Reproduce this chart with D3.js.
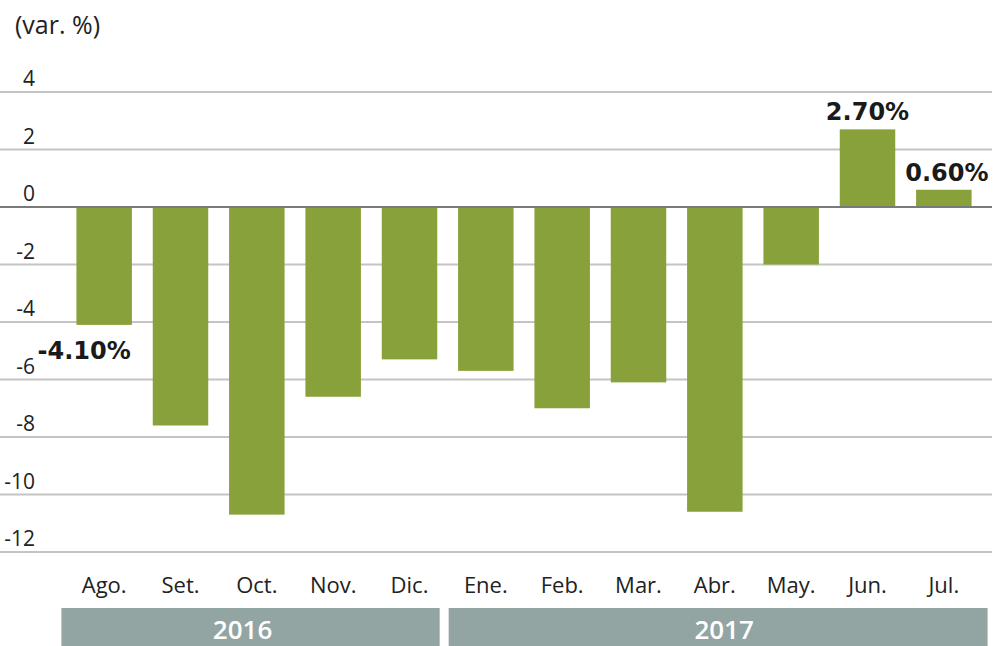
<!DOCTYPE html>
<html>
<head>
<meta charset="utf-8">
<script src="https://cdn.jsdelivr.net/npm/d3@7"></script>
<style>
  html, body { margin: 0; padding: 0; background: #fff; }
  svg { display: block; }
</style>
</head>
<body>
<div id="chart"></div>
<script>
const months = ["Ago.", "Set.", "Oct.", "Nov.", "Dic.", "Ene.", "Feb.", "Mar.", "Abr.", "May.", "Jun.", "Jul."]
const values = [-4.1, -7.6, -10.7, -6.6, -5.3, -5.7, -7.0, -6.1, -10.6, -2.0, 2.7, 0.6]
const yTicks = [4, 2, 0, -2, -4, -6, -8, -10, -12]
const years = [
  {label: "2016", first: "Ago.", last: "Dic."},
  {label: "2017", first: "Ene.", last: "Jul."}
]
// bars that carry a value label
const labelled = {"Ago.": "-4.10%", "Jun.": "2.70%", "Jul.": "0.60%"}

const width = 995, height = 646
const green = "#88a13a"
const ink = "#222"

const svg = d3.select("#chart").append("svg")
  .attr("width", width)
  .attr("height", height)

const y = d3.scaleLinear().domain([4, -12]).range([92, 552])
const x = d3.scaleBand().domain(months).range([66, 982])
  .paddingInner(0.273).paddingOuter(0.1365)

// unit subtitle
svg.append("text")
  .attr("x", 15).attr("y", 34)
  .attr("font-family", "Open Sans, sans-serif")
  .attr("font-size", 25)
  .attr("fill", ink)
  .text("(var. %)")

// grid
const grid = svg.append("g")
grid.selectAll("line")
  .data(yTicks)
  .join("line")
    .attr("x1", 0).attr("x2", 992)
    .attr("y1", d => y(d)).attr("y2", d => y(d))
    .attr("stroke", d => d === 0 ? "#7a7a7a" : "#c4c4c4")
    .attr("stroke-width", 2)

grid.selectAll("text")
  .data(yTicks)
  .join("text")
    .attr("x", 35)
    .attr("y", d => y(d) - 6)
    .attr("text-anchor", "end")
    .attr("font-family", "Open Sans, sans-serif")
    .attr("font-size", 21)
    .attr("fill", ink)
    .text(d => d)

// bars
svg.append("g")
  .selectAll("rect")
  .data(months)
  .join("rect")
    .attr("x", d => x(d))
    .attr("width", x.bandwidth())
    .attr("y", (d, i) => y(Math.max(0, values[i])))
    .attr("height", (d, i) => Math.abs(y(values[i]) - y(0)))
    .attr("fill", green)

// redraw zero line on top of bars
svg.append("line")
  .attr("x1", 0).attr("x2", 992)
  .attr("y1", y(0)).attr("y2", y(0))
  .attr("stroke", "#7a7a7a")
  .attr("stroke-width", 2)

// value labels
svg.append("g")
  .selectAll("text")
  .data(months.filter(m => labelled[m]))
  .join("text")
    .attr("x", d => x(d) + x.bandwidth() / 2 + (d === "Ago." ? -20 : d === "Jul." ? 3 : 0))
    .attr("y", d => {
      const v = values[months.indexOf(d)]
      return v < 0 ? y(v) + 34 : y(v) - 9
    })
    .attr("text-anchor", "middle")
    .attr("font-family", "DejaVu Sans, sans-serif")
    .attr("font-weight", "bold")
    .attr("font-size", 24)
    .attr("fill", "#1a1a1a")
    .text(d => labelled[d])

// month labels
svg.append("g")
  .selectAll("text")
  .data(months)
  .join("text")
    .attr("x", d => x(d) + x.bandwidth() / 2)
    .attr("y", 593)
    .attr("text-anchor", "middle")
    .attr("font-family", "Open Sans, sans-serif")
    .attr("font-size", 22)
    .attr("fill", ink)
    .text(d => d)

// year bands
const mid = (x("Dic.") + x.bandwidth() + x("Ene.")) / 2
const bandEdge = yr => yr.label === "2016"
  ? [x(yr.first) - 15, mid - 8]
  : [mid + 1, x(yr.last) + x.bandwidth() + 16]

const yg = svg.append("g")
yg.selectAll("rect")
  .data(years)
  .join("rect")
    .attr("x", d => bandEdge(d)[0])
    .attr("width", d => bandEdge(d)[1] - bandEdge(d)[0])
    .attr("y", 608)
    .attr("height", 40)
    .attr("fill", "#93a5a3")

yg.selectAll("text")
  .data(years)
  .join("text")
    .attr("x", d => (bandEdge(d)[0] + bandEdge(d)[1]) / 2 - (d.label === "2016" ? 8 : -6))
    .attr("y", 639)
    .attr("text-anchor", "middle")
    .attr("font-family", "Open Sans, sans-serif")
    .attr("font-weight", 600)
    .attr("font-size", 26)
    .attr("fill", "#fff")
    .text(d => d.label)
</script>
</body>
</html>
